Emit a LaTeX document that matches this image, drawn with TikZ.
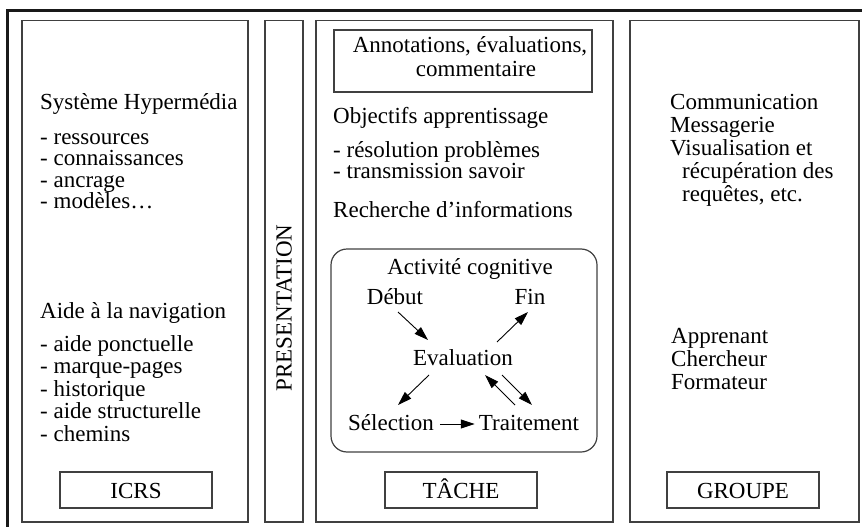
\documentclass[tikz,border=0pt]{standalone}
\usepackage{fontspec}
\setmainfont{Liberation Serif}
\usetikzlibrary{arrows.meta,calc}
\begin{document}
\begin{tikzpicture}[x=1pt,y=-1pt,
  panel/.style={draw=black!75, line width=1.2pt},
  frame/.style={draw=black!90, line width=2.2pt},
  lbl/.style={inner sep=0pt, font=\fontsize{23}{23}\selectfont},
  lft/.style={lbl, anchor=base west},
  ctr/.style={lbl, anchor=base},
  tag/.style={draw=black!75, line width=1.2pt, minimum width=152pt,
    minimum height=36pt, inner sep=0pt, text height=17pt, text depth=0pt,
    font=\fontsize{23}{23}\selectfont},
  arr/.style={-{Triangle[length=14pt,width=9pt]}, line width=0.9pt},
]
\useasboundingbox (0,0) rectangle (862,527);

% outer frame and the four columns
\draw[frame] (7.5,10.5) rectangle (880,545);
\draw[panel] (22,20.5) rectangle (248,522);
\draw[panel] (265,20.5) rectangle (303,522);
\draw[panel] (316,20.5) rectangle (613,522);
\draw[panel] (630,20.5) rectangle (859,522);

% column 1
\node[lft] (sh) at (40,110) {Système Hypermédia};
\node[lft] (s1) at (40,144) {- ressources};
\node[lft] (s2) at (40,165.5) {- connaissances};
\node[lft] (s3) at (40,187) {- ancrage};
\node[lft] (s4) at (40,208.5) {- modèles…};
\node[lft] (nav) at (40,318) {Aide à la navigation};
\node[lft] (n1) at (40,351) {- aide ponctuelle};
\node[lft] (n2) at (40,373.5) {- marque-pages};
\node[lft] (n3) at (40,396) {- historique};
\node[lft] (n4) at (40,418.5) {- aide structurelle};
\node[lft] (n5) at (40,441) {- chemins};
\node[tag] (icrs) at (136,490) {ICRS};

% column 2
\node[lbl, rotate=90] (pres) at (284,308) {PRESENTATION};

% column 3
\node[draw=black!75, line width=1.2pt, minimum width=258pt, minimum height=62pt,
  inner sep=0pt] (annot) at (463,61) {};
\node[ctr] (an1) at ($(annot.north)+(7,23)$) {Annotations, évaluations,};
\node[ctr] (an2) at ($(annot.north)+(13,47)$) {commentaire};
\node[lft] (obj) at (333,123) {Objectifs apprentissage};
\node[lft] (o1) at (333,157) {- résolution problèmes};
\node[lft] (o2) at (333,178) {- transmission savoir};
\node[lft] (rech) at (333,217) {Recherche d’informations};

\draw[panel, rounded corners=16pt] (331,249) rectangle (597,452);
\node[ctr] (act) at (470,274) {Activité cognitive};
\node[ctr] (deb) at (395,304) {Début};
\node[ctr] (fin) at (530,304) {Fin};
\node[ctr] (eval) at (463,365) {Evaluation};
\node[ctr] (sel) at (391,430) {Sélection};
\node[ctr] (trait) at (529,430) {Traitement};

\draw[arr] ($(deb.base)+(3,8)$) -- ($(eval.base)+(-35,-25)$);
\draw[arr] ($(eval.base)+(34,-23)$) -- ($(fin.base)+(-2,8)$);
\draw[arr] ($(eval.base)+(-34,10)$) -- ($(sel.base)+(7,-25)$);
\draw[arr] ($(sel.base east)+(6,-6)$) -- ($(trait.base west)+(-4,-6)$);
\draw[arr] ($(trait.base)+(-14,-25)$) -- ($(eval.base)+(22,10)$);
\draw[arr] ($(eval.base)+(39,10)$) -- ($(trait.base)+(3,-25)$);

\node[tag] (tache) at (461,490) {TÂCHE};

% column 4
\node[lft] (c1) at (670,109) {Communication};
\node[lft] (c2) at (670,132) {Messagerie};
\node[lft] (c3) at (670,155) {Visualisation et};
\node[lft] (c4) at (682,178) {récupération des};
\node[lft] (c5) at (682,201) {requêtes, etc.};
\node[lft] (g1) at (671,343) {Apprenant};
\node[lft] (g2) at (671,366) {Chercheur};
\node[lft] (g3) at (671,389) {Formateur};
\node[tag] (grp) at (743,490) {GROUPE};
\end{tikzpicture}
\end{document}
